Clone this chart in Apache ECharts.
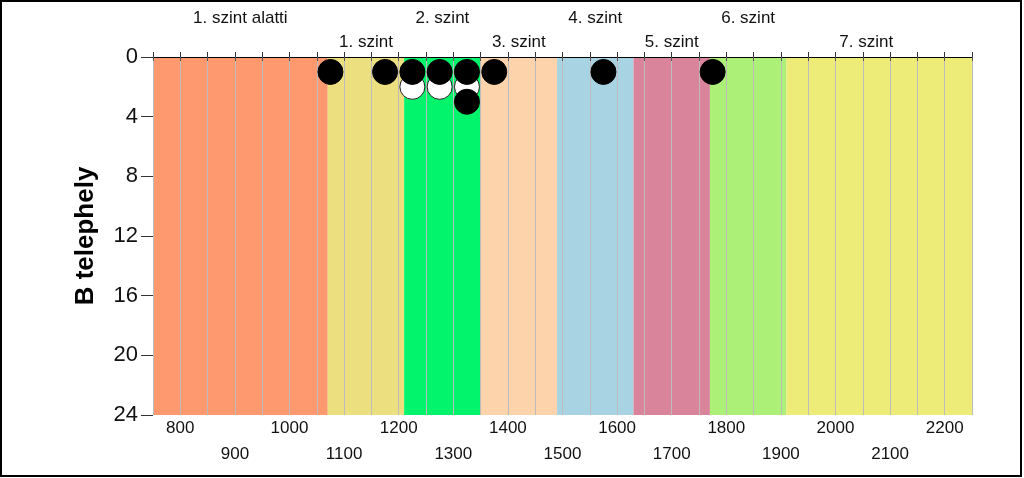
<!DOCTYPE html>
<html><head><meta charset="utf-8">
<script src="https://cdn.jsdelivr.net/npm/echarts@6/dist/echarts.min.js"></script>
<style>html,body{margin:0;padding:0;background:#fff}#c{width:1024px;height:478px}</style>
</head><body><div id="c"></div>
<script>
// Band (level) definitions
const bandNames = ['1. szint alatti','1. szint','2. szint','3. szint','4. szint','5. szint','6. szint','7. szint'];
const bandStarts = [750,1070,1210,1350,1490,1630,1770,1910];
const bandEnds   = [1070,1210,1350,1490,1630,1770,1910,2250];
const bandColors = ['#FE986E','#EBDF80','#02F46C','#FDD3AB','#A8D3E2','#D9849A','#ADF078','#EEEC78'];
// Dots (stacked counts)
const blackX = [1075,1175,1225,1275,1325,1375,1575,1775,1325];
const blackY = [1,1,1,1,1,1,1,1,3];
const whiteX = [1225,1275,1325];
const whiteY = [2,2,2];

const FONT = 'Liberation Sans';
const chart = echarts.init(document.getElementById('c'));
const areas = bandNames.map((n,i)=>[
  {name:n, xAxis:bandStarts[i], yAxis:0, itemStyle:{color:bandColors[i]},
   label:{distance: i%2===0 ? 30 : 6, offset: i===bandNames.length-1 ? [-13,0] : [0,0]}},
  {xAxis:bandEnds[i], yAxis:24}
]);
chart.setOption({
  animation:false,
  backgroundColor:'#fff',
  textStyle:{fontFamily:FONT},
  grid:{left:153,right:52,top:57,bottom:63},
  graphic:[{type:'rect',shape:{x:1,y:1,width:1020,height:475},style:{fill:'none',stroke:'#000',lineWidth:2},z:100}],
  xAxis:[{
    type:'value',min:750,max:2250,interval:50,position:'bottom',z:3,
    axisLine:{show:true,lineStyle:{color:'#555',width:1}},
    axisTick:{show:true,length:4,lineStyle:{color:'#555'}},
    splitLine:{show:true,lineStyle:{color:'#bcbcbc',width:1}},
    axisLabel:{fontSize:17,color:'#111',margin:0,lineHeight:26,showMinLabel:true,showMaxLabel:true,
      formatter:v=> v%200===0 ? v+'\n ' : (v%100===0 ? ' \n'+v : '')}
  },{
    type:'value',min:750,max:2250,interval:50,position:'top',z:3,
    axisLine:{show:true,lineStyle:{color:'#000',width:1}},
    axisTick:{show:true,length:5,lineStyle:{color:'#333'}},
    splitLine:{show:false},axisLabel:{show:false}
  }],
  yAxis:{
    type:'value',inverse:true,min:0,max:24,interval:4,
    name:'B telephely',nameLocation:'middle',nameGap:54,
    nameTextStyle:{fontSize:26,fontWeight:'bold',color:'#000',fontFamily:FONT},
    axisLine:{show:false},
    axisTick:{show:true,length:12,lineStyle:{color:'#333'}},
    splitLine:{show:false},
    axisLabel:{fontSize:22,color:'#111',margin:15}
  },
  series:[
    {type:'scatter',data:[],z:1,silent:true,
     markArea:{silent:true,label:{show:true,position:'top',fontSize:17,color:'#111',fontFamily:FONT},data:areas}},
    {type:'scatter',z:5,symbolSize:25,data:whiteX.map((x,i)=>[x,whiteY[i]]),
     itemStyle:{color:'#fff',borderColor:'#222',borderWidth:1,opacity:1}},
    {type:'scatter',z:6,symbolSize:25,data:blackX.map((x,i)=>[x,blackY[i]]),
     itemStyle:{color:'#000',borderColor:'#000',borderWidth:1,opacity:1}}
  ]
});
</script></body></html>
